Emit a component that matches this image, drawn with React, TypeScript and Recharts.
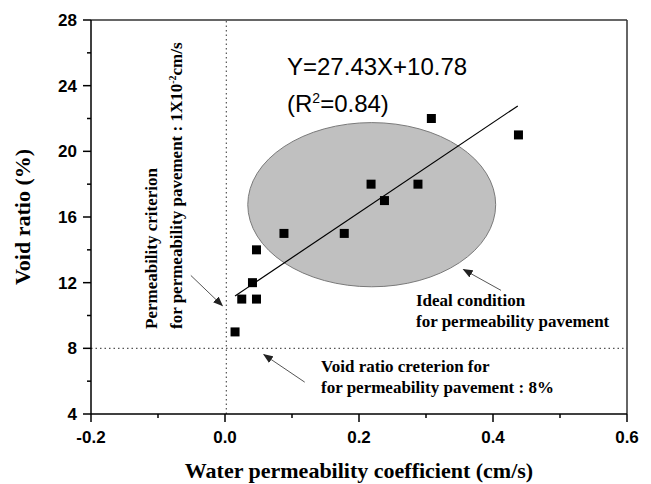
import React from "react";
import {
  ScatterChart,
  Scatter,
  XAxis,
  YAxis,
  ReferenceLine,
  ReferenceArea,
} from "recharts";

// measured samples
const permeability = [0.015, 0.025, 0.041, 0.047, 0.047, 0.088, 0.178, 0.218, 0.238, 0.288, 0.308, 0.438];
const voidRatio = [9, 11, 12, 11, 14, 15, 15, 18, 17, 18, 22, 21];

const xTicks = [-0.2, -0.1, 0, 0.1, 0.2, 0.3, 0.4, 0.5, 0.6];
const yTicks = [4, 6, 8, 10, 12, 14, 16, 18, 20, 22, 24, 26, 28];

// regression Y = 27.43X + 10.78, drawn over the fitted range
const fitRange = [0.015, 0.437];
const fitSlope = 27.43;
const fitIntercept = 10.78;

// ideal-condition zone (centre and half axes, data units)
const zoneCentre = { x: 0.219, y: 16.75 };
const zoneHalf = { x: 0.185, y: 5.0 };

const points = permeability.map((x, i) => ({ x, y: voidRatio[i] }));
const fitLine = fitRange.map((x) => ({ x, y: fitSlope * x + fitIntercept }));

const serif = "'Liberation Serif', 'Times New Roman', serif";
const sans = "'Liberation Sans', Arial, sans-serif";

const XTick = (props: any) => {
  const { x, y, payload, index } = props;
  const major = index % 2 === 0;
  return (
    <g>
      <line x1={x} y1={y} x2={x} y2={y + (major ? 8 : 4)} stroke="#000" strokeWidth={1.5} />
      {major && (
        <text x={x} y={y + 29} textAnchor="middle" fontFamily={sans} fontWeight="bold" fontSize={17} fill="#000">
          {payload.value.toFixed(1)}
        </text>
      )}
    </g>
  );
};

const YTick = (props: any) => {
  const { x, y, payload, index } = props;
  const major = index % 2 === 0;
  return (
    <g>
      <line x1={x} y1={y} x2={x - (major ? 8 : 4)} y2={y} stroke="#000" strokeWidth={1.5} />
      {major && (
        <text x={x - 14} y={y + 6} textAnchor="end" fontFamily={sans} fontWeight="bold" fontSize={17} fill="#000">
          {payload.value}
        </text>
      )}
    </g>
  );
};

const Square = (props: any) => (
  <rect x={props.cx - 4.5} y={props.cy - 4.5} width={9} height={9} fill="#000" />
);

const arrowShape = (p: any) => (
  <line x1={p.x1} y1={p.y1} x2={p.x2} y2={p.y2} stroke="#555" strokeWidth={1} markerEnd="url(#arrowHead)" />
);

const annot = { fontFamily: serif, fontWeight: "bold", fontSize: 17, fill: "#000" } as const;

export default function App() {
  return (
    <div style={{ position: "absolute", left: 0, top: 0, background: "#fff" }}>
      <svg width={0} height={0} style={{ position: "absolute" }}>
        <defs>
          <marker id="arrowHead" markerWidth={10} markerHeight={8} refX={9} refY={4} orient="auto" markerUnits="userSpaceOnUse">
            <path d="M0,0 L10,4 L0,8 Z" fill="#222" />
          </marker>
        </defs>
      </svg>
      <ScatterChart width={651} height={484} margin={{ top: 20, right: 24, bottom: 20, left: 31 }}>
        <XAxis
          type="number"
          dataKey="x"
          domain={[-0.2, 0.6]}
          ticks={xTicks}
          interval={0}
          height={50}
          stroke="#000"
          strokeWidth={1.5}
          tickLine={false}
          tickSize={0}
          tickMargin={0}
          tick={<XTick />}
          allowDataOverflow
          label={{
            content: (p: any) => (
              <text x={p.viewBox.x + p.viewBox.width / 2} y={p.viewBox.y + 64} textAnchor="middle" fontFamily={serif} fontWeight="bold" fontSize={22} fill="#000">
                Water permeability coefficient (cm/s)
              </text>
            ),
          }}
        />
        <YAxis
          type="number"
          dataKey="y"
          domain={[4, 28]}
          ticks={yTicks}
          interval={0}
          width={60}
          stroke="#000"
          strokeWidth={1.5}
          tickLine={false}
          tickSize={0}
          tickMargin={0}
          tick={<YTick />}
          allowDataOverflow
          label={{
            content: (p: any) => {
              const cx = p.viewBox.x - 1;
              const cy = p.viewBox.y + p.viewBox.height / 2;
              return (
                <text x={cx} y={cy} transform={`rotate(-90, ${cx}, ${cy})`} textAnchor="middle" fontFamily={serif} fontWeight="bold" fontSize={22} fill="#000">
                  Void ratio (%)
                </text>
              );
            },
          }}
        />
        <ReferenceArea
          x1={zoneCentre.x - zoneHalf.x}
          x2={zoneCentre.x + zoneHalf.x}
          y1={zoneCentre.y - zoneHalf.y}
          y2={zoneCentre.y + zoneHalf.y}
          shape={(p: any) => (
            <ellipse cx={p.x + p.width / 2} cy={p.y + p.height / 2} rx={p.width / 2} ry={p.height / 2} fill="#c0c0c0" stroke="#7a7a7a" strokeWidth={1} />
          )}
        />
        <ReferenceLine y={28} stroke="#333" strokeWidth={1.5} />
        <ReferenceLine x={0.6} stroke="#333" strokeWidth={1.5} />
        <ReferenceLine x={0.002} stroke="#555" strokeWidth={1.2} strokeDasharray="1.5 3" />
        <ReferenceLine y={8} stroke="#555" strokeWidth={1.2} strokeDasharray="1.5 3" />
        <ReferenceLine segment={fitLine} stroke="#000" strokeWidth={1.2} />
        <ReferenceLine segment={[{ x: -0.051, y: 12.44 }, { x: -0.004, y: 10.6 }]} shape={arrowShape} />
        <ReferenceLine segment={[{ x: 0.119, y: 5.94 }, { x: 0.058, y: 7.62 }]} shape={arrowShape} />
        <ReferenceLine segment={[{ x: 0.412, y: 11.53 }, { x: 0.356, y: 12.8 }]} shape={arrowShape} />
        <Scatter data={points} shape={<Square />} isAnimationActive={false} />

        <text x={287} y={75} fontFamily={sans} fontSize={24} fill="#000">Y=27.43X+10.78</text>
        <text x={287} y={112} fontFamily={sans} fontSize={24} fill="#000">
          (R<tspan dy={-9} fontSize={14}>2</tspan><tspan dy={9}>=0.84)</tspan>
        </text>

        <text x={157} y={329} transform="rotate(-90, 157, 329)" {...annot}>Permeability criterion</text>
        <text x={182} y={329} transform="rotate(-90, 182, 329)" {...annot}>
          for permeability pavement : 1X10<tspan dy={-6} fontSize={10}>-2</tspan><tspan dy={6}>cm/s</tspan>
        </text>

        <text x={416} y={306} {...annot}>Ideal condition</text>
        <text x={416} y={327} {...annot}>for permeability pavement</text>

        <text x={321} y={372} {...annot}>Void ratio creterion for</text>
        <text x={321} y={393} {...annot}>for permeability pavement : 8%</text>
      </ScatterChart>
    </div>
  );
}
